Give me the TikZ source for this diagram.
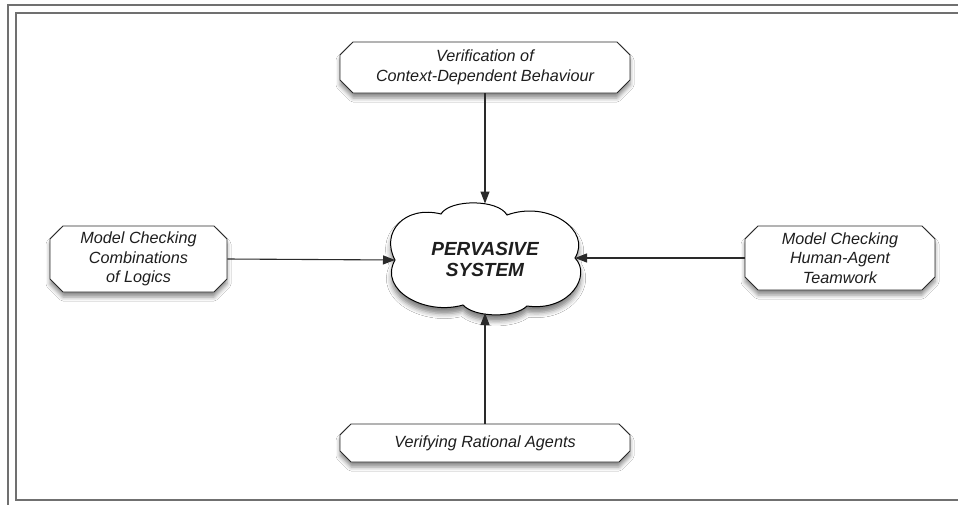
\documentclass[tikz,border=0pt]{standalone}
\usepackage{fontspec}
\setmainfont{Liberation Sans}
\usetikzlibrary{shapes.misc,arrows.meta,shadows.blur}
\definecolor{framegray}{HTML}{707070}
\definecolor{txt}{HTML}{1E1E1E}
\definecolor{linec}{HTML}{2A2A2A}
\begin{document}
\begin{tikzpicture}[x=1pt,y=-1pt,
  boxshadow/.style={blur shadow={shadow xshift=0pt,shadow yshift=-5pt,shadow blur radius=4pt,shadow opacity=45}},
  stepbox/.style={chamfered rectangle, chamfered rectangle xsep=9.5pt, draw=linec, line width=0.9pt,
    fill=white, boxshadow, inner sep=0pt, align=center, text=txt,
    font=\fontsize{16.2}{19.5}\selectfont\itshape},
  cloudpath/.style={draw=black, line width=1pt, fill=white,
    blur shadow={shadow xshift=0pt,shadow yshift=-6pt,shadow blur radius=5pt,shadow opacity=50}},
  conn/.style={draw=linec, line width=1.1pt, -{Triangle[length=12pt,width=9pt]}}]
\useasboundingbox (0,0) rectangle (958,504);
\fill[white] (0,0) rectangle (958,504);
% double frame
\draw[framegray, line width=1.8pt] (970,5) -- (8,5) -- (8,520);
\draw[framegray, line width=1.8pt] (970,13) -- (16,13) -- (16,500) -- (970,500);
% boxes
\node[stepbox, minimum width=290pt, minimum height=51pt] (top) at (485,67.5)
  {Verification of\\Context-Dependent Behaviour};
\node[stepbox, minimum width=177pt, minimum height=66pt] (left) at (138.5,259)
  {Model Checking\\Combinations\\of Logics};
\node[stepbox, minimum width=190pt, minimum height=64pt] (right) at (840,258)
  {Model Checking\\Human-Agent\\Teamwork};
\node[stepbox, minimum width=290pt, minimum height=38pt] (bottom) at (485,443)
  {Verifying Rational Agents};
% cloud
\path[cloudpath] (395,260) .. controls (380,232) and (405,205) .. (441,214)
  .. controls (450,199) and (498,199) .. (507,215)
  .. controls (548,200) and (592,230) .. (575,258)
  .. controls (592,275) and (570,312) .. (527,306)
  .. controls (515,318) and (475,318) .. (463,305)
  .. controls (425,316) and (378,290) .. (395,260) -- cycle;
\node[align=center, text=txt, font=\fontsize{19}{21}\selectfont\bfseries\itshape] (sys) at (485,259)
  {PERVASIVE\\SYSTEM};
\coordinate (cT) at (485,203.5);
\coordinate (cL) at (395,260);
\coordinate (cR) at (575,258);
\coordinate (cB) at (485,313);
% connectors
\draw[conn] (top.south) -- (cT);
\draw[conn] (left.east) -- (cL);
\draw[conn] (right.west) -- (cR);
\draw[conn] (bottom.north) -- (cB);
\end{tikzpicture}
\end{document}
